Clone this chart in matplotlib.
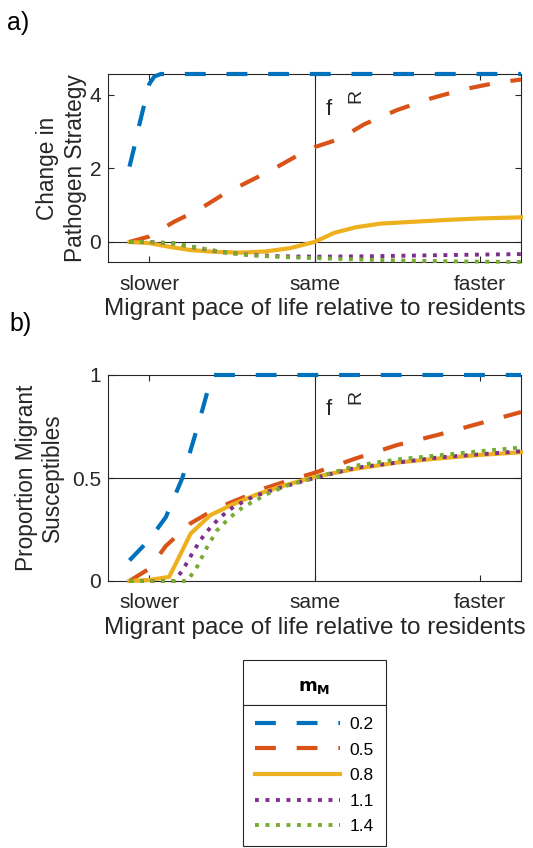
import matplotlib
matplotlib.use("Agg")
import matplotlib.pyplot as plt
from matplotlib.patches import Rectangle

plt.rcParams['font.family'] = ['Liberation Sans', 'DejaVu Sans']
plt.rcParams['mathtext.default'] = 'regular'

# pace of life of migrants relative to residents (log scale, 0 = same)
m_values = ["0.2", "0.5", "0.8", "1.1", "1.4"]
tick_pos = [-1, 0, 1]
tick_names = ["slower", "same", "faster"]

# a) change in pathogen strategy
xa_02 = [-1.12, -1.09, -1.06, -1.03, -1.0, -0.97, -0.93, 1.25]
ya_02 = [2.05, 2.6, 3.2, 3.75, 4.3, 4.5, 4.57, 4.57]
xa_05 = [-1.12, -1.0, -0.85, -0.7, -0.55, -0.4, -0.25, -0.1, 0.0, 0.15, 0.3, 0.5, 0.7, 0.9, 1.1, 1.25]
ya_05 = [0.0, 0.15, 0.55, 0.88, 1.3, 1.64, 1.98, 2.36, 2.58, 2.8, 3.2, 3.59, 3.9, 4.15, 4.33, 4.42]
xa_08 = [-1.12, -1.0, -0.87, -0.75, -0.6, -0.45, -0.3, -0.15, 0.0, 0.12, 0.25, 0.4, 0.6, 0.8, 1.0, 1.25]
ya_08 = [0.0, -0.03, -0.14, -0.22, -0.27, -0.29, -0.26, -0.17, 0.0, 0.25, 0.4, 0.5, 0.55, 0.6, 0.64, 0.67]
xa_11 = [-1.12, -1.0, -0.85, -0.7, -0.55, -0.4, -0.2, 0.0, 0.3, 0.6, 0.9, 1.25]
ya_11 = [0.0, 0.0, -0.04, -0.17, -0.28, -0.35, -0.39, -0.40, -0.39, -0.37, -0.35, -0.33]
xa_14 = [-1.12, -1.0, -0.85, -0.7, -0.55, -0.4, -0.2, 0.0, 0.3, 0.6, 0.9, 1.25]
ya_14 = [0.0, 0.0, -0.04, -0.16, -0.28, -0.36, -0.41, -0.44, -0.48, -0.51, -0.53, -0.545]

# b) proportion of migrant susceptibles
xb_02 = [-1.12, -1.0, -0.9, -0.8, -0.7, -0.62, 1.25]
yb_02 = [0.10, 0.20, 0.31, 0.50, 0.77, 1.0, 1.0]
xb_05 = [-1.12, -1.0, -0.9, -0.75, -0.6, -0.45, -0.3, -0.15, 0.0, 0.25, 0.5, 0.75, 1.0, 1.25]
yb_05 = [0.0, 0.06, 0.17, 0.28, 0.35, 0.40, 0.45, 0.49, 0.525, 0.595, 0.66, 0.71, 0.765, 0.82]
xb_08 = [-1.12, -1.0, -0.88, -0.83, -0.75, -0.63, -0.5, -0.35, -0.2, 0.0, 0.25, 0.5, 0.75, 1.0, 1.25]
yb_08 = [0.0, 0.005, 0.02, 0.10, 0.23, 0.32, 0.37, 0.42, 0.46, 0.505, 0.545, 0.575, 0.595, 0.612, 0.625]
xb_11 = [-1.12, -0.85, -0.8, -0.75, -0.69, -0.63, -0.57, -0.49, -0.37, -0.22, 0.0, 0.25, 0.5, 0.75, 1.0, 1.25]
yb_11 = [0.0, 0.0, 0.05, 0.12, 0.20, 0.26, 0.31, 0.36, 0.41, 0.45, 0.5, 0.55, 0.575, 0.60, 0.615, 0.63]
xb_14 = [-1.12, -0.77, -0.71, -0.65, -0.59, -0.51, -0.43, -0.28, -0.16, 0.0, 0.25, 0.5, 0.75, 1.0, 1.25]
yb_14 = [0.0, 0.0, 0.07, 0.165, 0.246, 0.31, 0.36, 0.425, 0.465, 0.5, 0.56, 0.59, 0.61, 0.63, 0.648]

colors = ['#0072BD', '#D95319', '#EDB120', '#7E2F8E', '#77AC30']
styles = [dict(lw=3, ls=(0, (5, 5))),
          dict(lw=3, ls=(0, (5, 5))),
          dict(lw=3, ls='-'),
          dict(lw=2.8, ls=(0, (1, 1.7))),
          dict(lw=2.8, ls=(0, (1, 1.7)))]

dark = '#262626'
fs_tick = 15
fs_xlabel = 17.5
fs_ylabel = 16.3

W, H = 533, 848
fig = plt.figure(figsize=(W / 100, H / 100), dpi=100)


def px_axes(left, top, right, bottom):
    return fig.add_axes([left / W, 1 - bottom / H, (right - left) / W, (bottom - top) / H])


ax_a = px_axes(108, 74, 521, 262)
ax_b = px_axes(108, 375, 521, 581)

series_a = [(xa_02, ya_02), (xa_05, ya_05), (xa_08, ya_08), (xa_11, ya_11), (xa_14, ya_14)]
series_b = [(xb_02, yb_02), (xb_05, yb_05), (xb_08, yb_08), (xb_11, yb_11), (xb_14, yb_14)]

handles = []
for ax, series in [(ax_a, series_a), (ax_b, series_b)]:
    ax.axvline(0, color=dark, lw=0.8, zorder=1)
    for (x, y), c, st, lab in zip(series, colors, styles, m_values):
        ln, = ax.plot(x, y, color=c, label=lab, clip_on=False, zorder=3, **st)
        if ax is ax_a:
            handles.append(ln)
    ax.set_xlim(-1.25, 1.25)
    ax.set_xticks(tick_pos)
    ax.set_xticklabels(tick_names)
    ax.tick_params(direction='in', top=True, right=True, length=4, width=0.8,
                   colors=dark, labelsize=fs_tick)
    ax.tick_params(axis='x', pad=9)
    ax.tick_params(axis='y', pad=5)
    for sp in ax.spines.values():
        sp.set_color(dark)
        sp.set_linewidth(0.8)
    ax.set_xlabel("Migrant pace of life relative to residents", fontsize=fs_xlabel,
                  color=dark, labelpad=3)


def f_label(ax, xf, yf, xr, yr):
    # "f" with a dropped, turned subscript "R" next to the reference line
    ax.text(xf, yf, "f", fontsize=16, color=dark, ha='left', va='baseline')
    ax.text(xr, yr, "R", rotation=90, fontsize=14, color=dark, ha='left', va='bottom')


ax_a.axhline(0, color=dark, lw=0.8, zorder=1)
ax_a.set_ylim(-0.545, 4.57)
ax_a.set_yticks([0, 2, 4])
ax_a.set_ylabel("Change in\nPathogen Strategy", fontsize=fs_ylabel, color=dark,
                labelpad=2, linespacing=1.25)
f_label(ax_a, 0.07, 3.46, 0.2, 3.78)

ax_b.axhline(0.5, color=dark, lw=0.8, zorder=1)
ax_b.set_ylim(0, 1)
ax_b.set_yticks([0, 0.5, 1])
ax_b.set_yticklabels(["0", "0.5", "1"])
ax_b.set_ylabel("Proportion Migrant\nSusceptibles", fontsize=fs_ylabel, color=dark,
                labelpad=6, linespacing=1.15)
f_label(ax_b, 0.07, 0.806, 0.2, 0.857)

fig.text(7 / W, 1 - 11 / H, "a)", fontsize=18, va='top', ha='left', color='black')
fig.text(9 / W, 1 - 312 / H, "b)", fontsize=18, va='top', ha='left', color='black')

leg = fig.legend(handles=handles, loc='upper center',
                 bbox_to_anchor=(314.5 / W, 1 - 705 / H), borderaxespad=0,
                 fontsize=12.5, handlelength=4.9, handletextpad=0.55,
                 borderpad=0.68, labelspacing=0.6, fancybox=False,
                 edgecolor=dark, framealpha=1)
leg.get_frame().set_linewidth(0.8)

# title cell sitting on top of the legend box
fig.canvas.draw()
lb = leg.get_window_extent()
cell_h = 45
fig.add_artist(Rectangle((lb.x0 / W, lb.y1 / H), lb.width / W, cell_h / H,
                         transform=fig.transFigure, facecolor='white',
                         edgecolor=dark, lw=0.8))
fig.text((lb.x0 + lb.x1) / 2 / W, (lb.y1 + cell_h * 0.4) / H, r"$\mathbf{m_M}$",
         fontsize=13, ha='center', va='center', color='black')

fig.savefig("out.png", dpi=100)
